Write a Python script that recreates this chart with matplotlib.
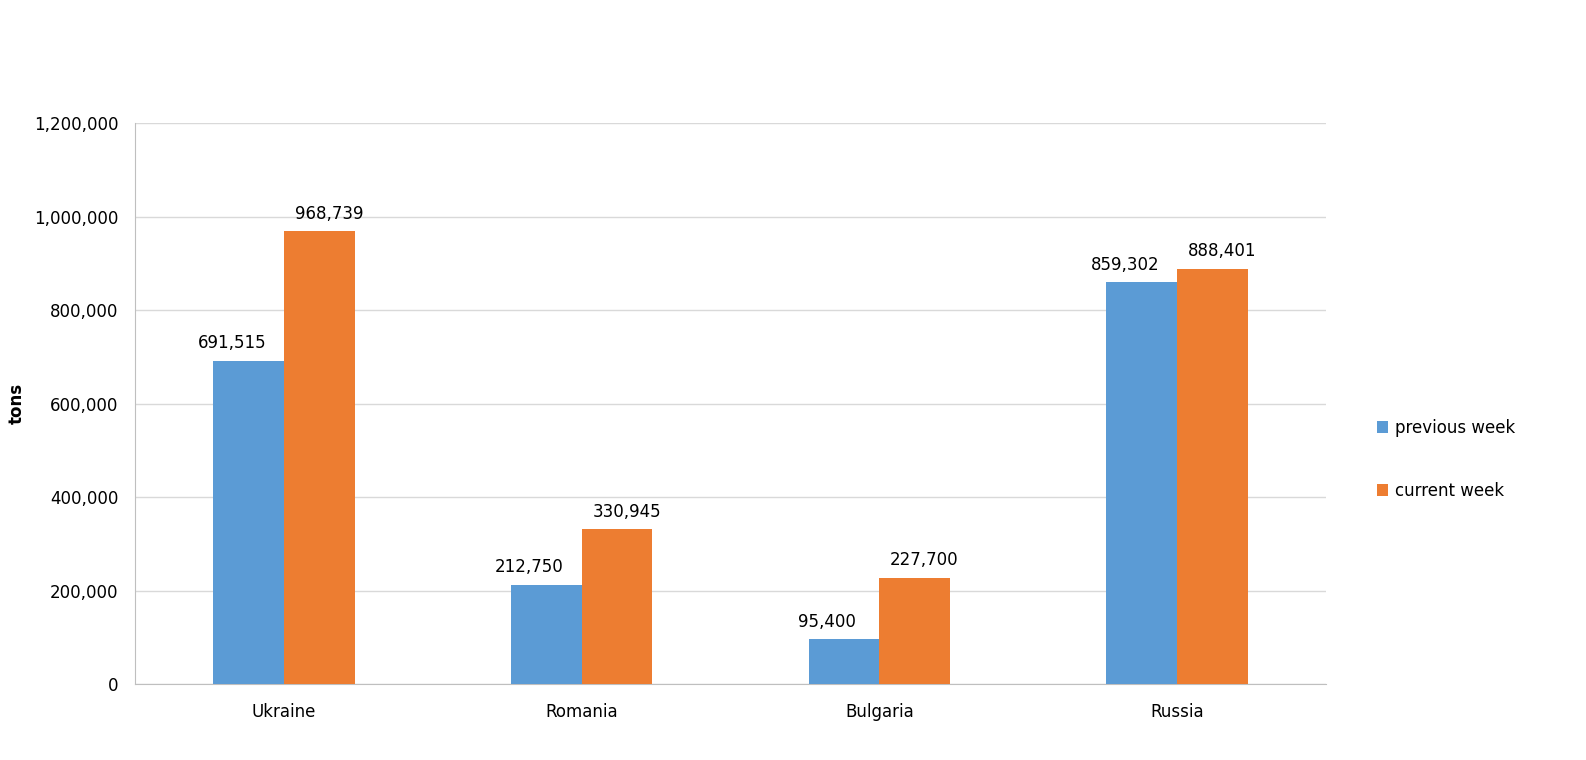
import numpy as np
import matplotlib
matplotlib.use("Agg")
import matplotlib.pyplot as plt

countries = ["Ukraine", "Romania", "Bulgaria", "Russia"]
previous_week = [691515, 212750, 95400, 859302]
current_week = [968739, 330945, 227700, 888401]

blue = "#5B9BD5"
orange = "#ED7D31"

plt.rcParams['font.family'] = ['DejaVu Sans']

fig = plt.figure(figsize=(15.86, 7.6), dpi=100)
ax = fig.add_axes([0.0851, 0.1, 0.751, 0.738])

x = np.arange(len(countries))
w = 0.238
b1 = ax.bar(x - w/2, previous_week, w, color=blue, label="previous week", zorder=3)
b2 = ax.bar(x + w/2, current_week, w, color=orange, label="current week", zorder=3)

# excel nudges the labels apart a little
for bars, dx in ((b1, -12), (b2, 7)):
    for r in bars:
        v = r.get_height()
        ax.annotate(f"{v:,.0f}", (r.get_x() + r.get_width()/2, v),
                    xytext=(dx, 6), textcoords="offset points",
                    ha="center", va="bottom", fontsize=12)

ax.set_xlim(-0.5, 3.5)
ax.set_ylim(0, 1200000)
ax.set_yticks(np.arange(0, 1200001, 200000))
ax.yaxis.set_major_formatter(matplotlib.ticker.FuncFormatter(lambda v, p: f"{v:,.0f}"))
ax.set_xticks(x)
ax.set_xticklabels(countries)
ax.tick_params(axis="both", labelsize=12, length=0)
ax.tick_params(axis="y", pad=12)
ax.tick_params(axis="x", pad=14)
ax.grid(axis="y", color="#D9D9D9", linewidth=1, zorder=0)
for s in ("top", "right"):
    ax.spines[s].set_visible(False)
for s in ("left", "bottom"):
    ax.spines[s].set_color("#BFBFBF")
ax.set_ylabel("tons", fontsize=12, fontweight="bold")
ax.yaxis.set_label_coords(-0.092, 0.5)

ax.legend(loc="center left", bbox_to_anchor=(1.03, 0.40), frameon=False,
          fontsize=12, handlelength=0.7, handleheight=0.7, labelspacing=2.7,
          handletextpad=0.4)

fig.savefig("out.png", dpi=100)
